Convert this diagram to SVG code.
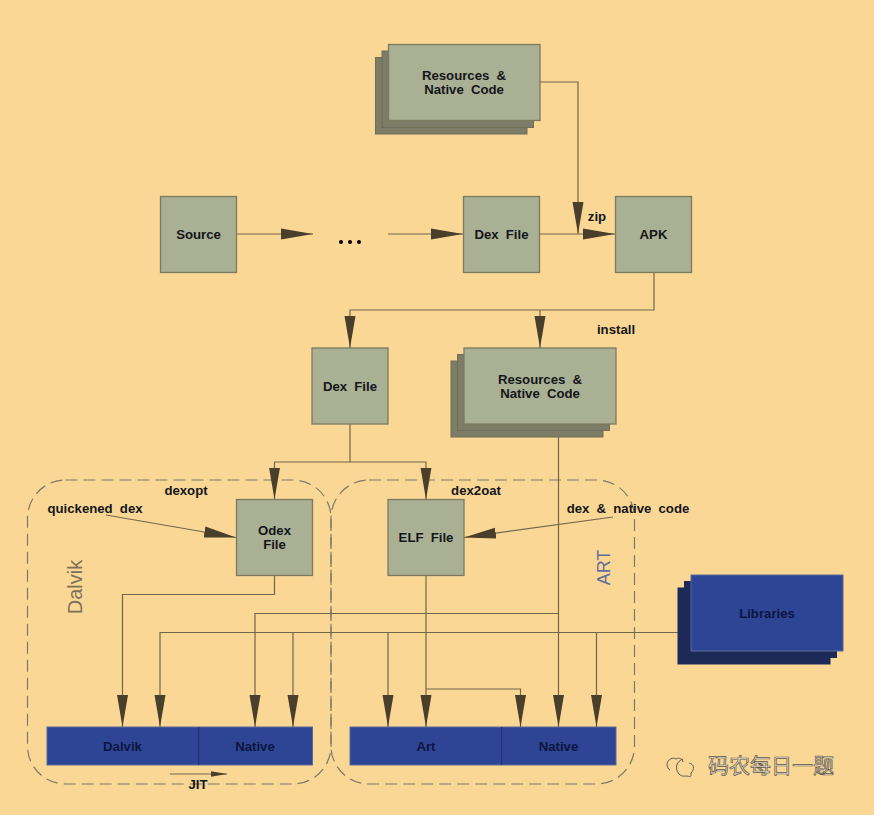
<svg xmlns="http://www.w3.org/2000/svg" width="874" height="815" viewBox="0 0 874 815">
<style>
.box{fill:#aab094;stroke:#7b7a5c;stroke-width:1.3}
.back{fill:#7d7c66;stroke:#6f6e58;stroke-width:1}
.blue{fill:#2e4596;stroke:#5a6a96;stroke-width:1}
.bback{fill:#1d2a58;stroke:#1d2a58;stroke-width:1}
.div{stroke:#1f2f70;stroke-width:1;fill:none}
text{font-family:"Liberation Sans",Arial,"Noto Sans CJK SC",sans-serif;font-size:13.2px;font-weight:700;fill:#14161a;text-anchor:middle;word-spacing:3.500px}
.onblue{fill:#0c1540}
.rot{font-weight:400;font-size:20px;word-spacing:0}
.c{fill:none;stroke:#71684c;stroke-width:1.2}
.bd{fill:none;stroke:#7d7866;stroke-width:1.2;stroke-dasharray:12 6}
</style>
<defs>
<marker id="a" markerUnits="userSpaceOnUse" markerWidth="33" markerHeight="12" refX="32" refY="6" orient="auto"><path d="M0,0.5 L32,6 L0,11.5 Z" fill="#4a3f2a"/></marker>
<marker id="s" markerUnits="userSpaceOnUse" markerWidth="17" markerHeight="7" refX="16" refY="3.5" orient="auto"><path d="M0,0.8 L16,3.5 L0,6.2 Z" fill="#4a3f2a"/></marker>
</defs>
<rect width="874" height="815" fill="#fbd796"/>
<g id="boundaries">
<rect id="dalvik-boundary" class="bd" x="27.5" y="480" width="303.5" height="304" rx="38"/>
<rect id="art-boundary" class="bd" x="331" y="480" width="303.5" height="304" rx="38"/>
<text class="rot" transform="translate(82,587) rotate(-90)" style="fill:#7c7158">Dalvik</text>
<text class="rot" transform="translate(610,567.500) rotate(-90)" style="fill:#5f6f98;font-size:18px">ART</text>
</g>
<g id="connectors">
<path class="c" d="M540,82H578V234" marker-end="url(#a)"/>
<path class="c" d="M237,234H313" marker-end="url(#a)"/>
<path class="c" d="M388,234H463" marker-end="url(#a)"/>
<path class="c" d="M540,234H615" marker-end="url(#a)"/>
<path class="c" d="M654,272V310H350V348" marker-end="url(#a)"/>
<path class="c" d="M540,310V348" marker-end="url(#a)"/>
<path class="c" d="M350,424V462H274.500V499.500" marker-end="url(#a)"/>
<path class="c" d="M350,462H426V499.500" marker-end="url(#a)"/>
<path class="c" d="M106,515L236,537.500" marker-end="url(#a)"/>
<path class="c" d="M613,517L464,537.500" marker-end="url(#a)"/>
<path class="c" d="M274.500,576V594.500H122.500V727" marker-end="url(#a)"/>
<path class="c" d="M558.500,424V727" marker-end="url(#a)"/>
<path class="c" d="M558.500,613.500H255V727" marker-end="url(#a)"/>
<path class="c" d="M680,632.500H160V727" marker-end="url(#a)"/>
<path class="c" d="M293,632.500V727" marker-end="url(#a)"/>
<path class="c" d="M388,632.500V727" marker-end="url(#a)"/>
<path class="c" d="M596.500,632.500V727" marker-end="url(#a)"/>
<path class="c" d="M426,576V727" marker-end="url(#a)"/>
<path class="c" d="M426,689H520.500V727" marker-end="url(#a)"/>
<path class="c" d="M170,774H227" marker-end="url(#s)"/>
</g>
<g id="resources-top">
<rect class="back" x="375.500" y="57.500" width="151.500" height="76.500"/>
<rect class="back" x="382" y="51" width="151.500" height="76.500"/>
<rect class="box" x="388.500" y="44.500" width="151.500" height="76"/>
<text x="464" y="80">Resources &amp;</text>
<text x="464" y="94">Native Code</text>
</g>
<g id="source"><rect class="box" x="160.500" y="196.500" width="76" height="76"/><text x="198.500" y="239">Source</text></g>
<g id="ellipsis"><circle cx="341" cy="242" r="2"/><circle cx="350" cy="242" r="2"/><circle cx="359" cy="242" r="2"/></g>
<g id="dex-file-top"><rect class="box" x="463.500" y="196.500" width="76" height="76"/><text x="501.500" y="239">Dex File</text></g>
<g id="apk"><rect class="box" x="615.500" y="196.500" width="76" height="76"/><text x="653.500" y="239">APK</text></g>
<g id="dex-file"><rect class="box" x="312" y="348" width="76" height="76"/><text x="350" y="391">Dex File</text></g>
<g id="resources-installed">
<rect class="back" x="451" y="361" width="152" height="76"/>
<rect class="back" x="457.500" y="354.500" width="152" height="76"/>
<rect class="box" x="464" y="348" width="152" height="76"/>
<text x="540" y="384">Resources &amp;</text>
<text x="540" y="398">Native Code</text>
</g>
<g id="odex"><rect class="box" x="236.500" y="499.500" width="76" height="76"/><text x="274.500" y="535">Odex</text><text x="274.500" y="549">File</text></g>
<g id="elf"><rect class="box" x="388" y="499.500" width="76" height="76"/><text x="426" y="542">ELF File</text></g>
<g id="libraries">
<rect class="bback" x="678" y="588" width="152" height="76"/>
<rect class="bback" x="684.500" y="581.500" width="152" height="76"/>
<rect class="blue" x="691" y="575" width="152" height="76"/>
<text class="onblue" x="767" y="618">Libraries</text>
</g>
<g id="dalvik-bar">
<rect class="blue" x="47" y="727" width="265.500" height="38"/>
<path class="div" d="M198.700,727V765"/>
<text class="onblue" x="122.500" y="751">Dalvik</text><text class="onblue" x="255" y="751">Native</text>
</g>
<g id="art-bar">
<rect class="blue" x="350" y="727" width="266" height="38"/>
<path class="div" d="M501.700,727V765"/>
<text class="onblue" x="426" y="751">Art</text><text class="onblue" x="558.500" y="751">Native</text>
</g>
<g id="labels">
<text x="597" y="221">zip</text>
<text x="616" y="334">install</text>
<text x="186" y="495">dexopt</text>
<text x="476" y="495">dex2oat</text>
<text x="95" y="513">quickened dex</text>
<text x="628" y="513">dex &amp; native code</text>
<text x="198" y="789">JIT</text>
</g>
<g id="watermark">
<path d="M667,764c1,-5 6,-7 9,-5c3,-2 7,0 7,3M683,759c-6,2 -9,9 -4,15c3,3 6,2 8,2c4,1 4,1 4,-3c4,-4 3,-9 -2,-10M667,764c0,3 1,5 3,6" fill="none" stroke="#5f5a50" stroke-width="1"/>
<text x="771" y="773" style="font-size:21px;font-weight:400;fill:#e6dcc4;stroke:#5c584e;stroke-width:.7;word-spacing:0">码农每日一题</text>
</g>
</svg>
